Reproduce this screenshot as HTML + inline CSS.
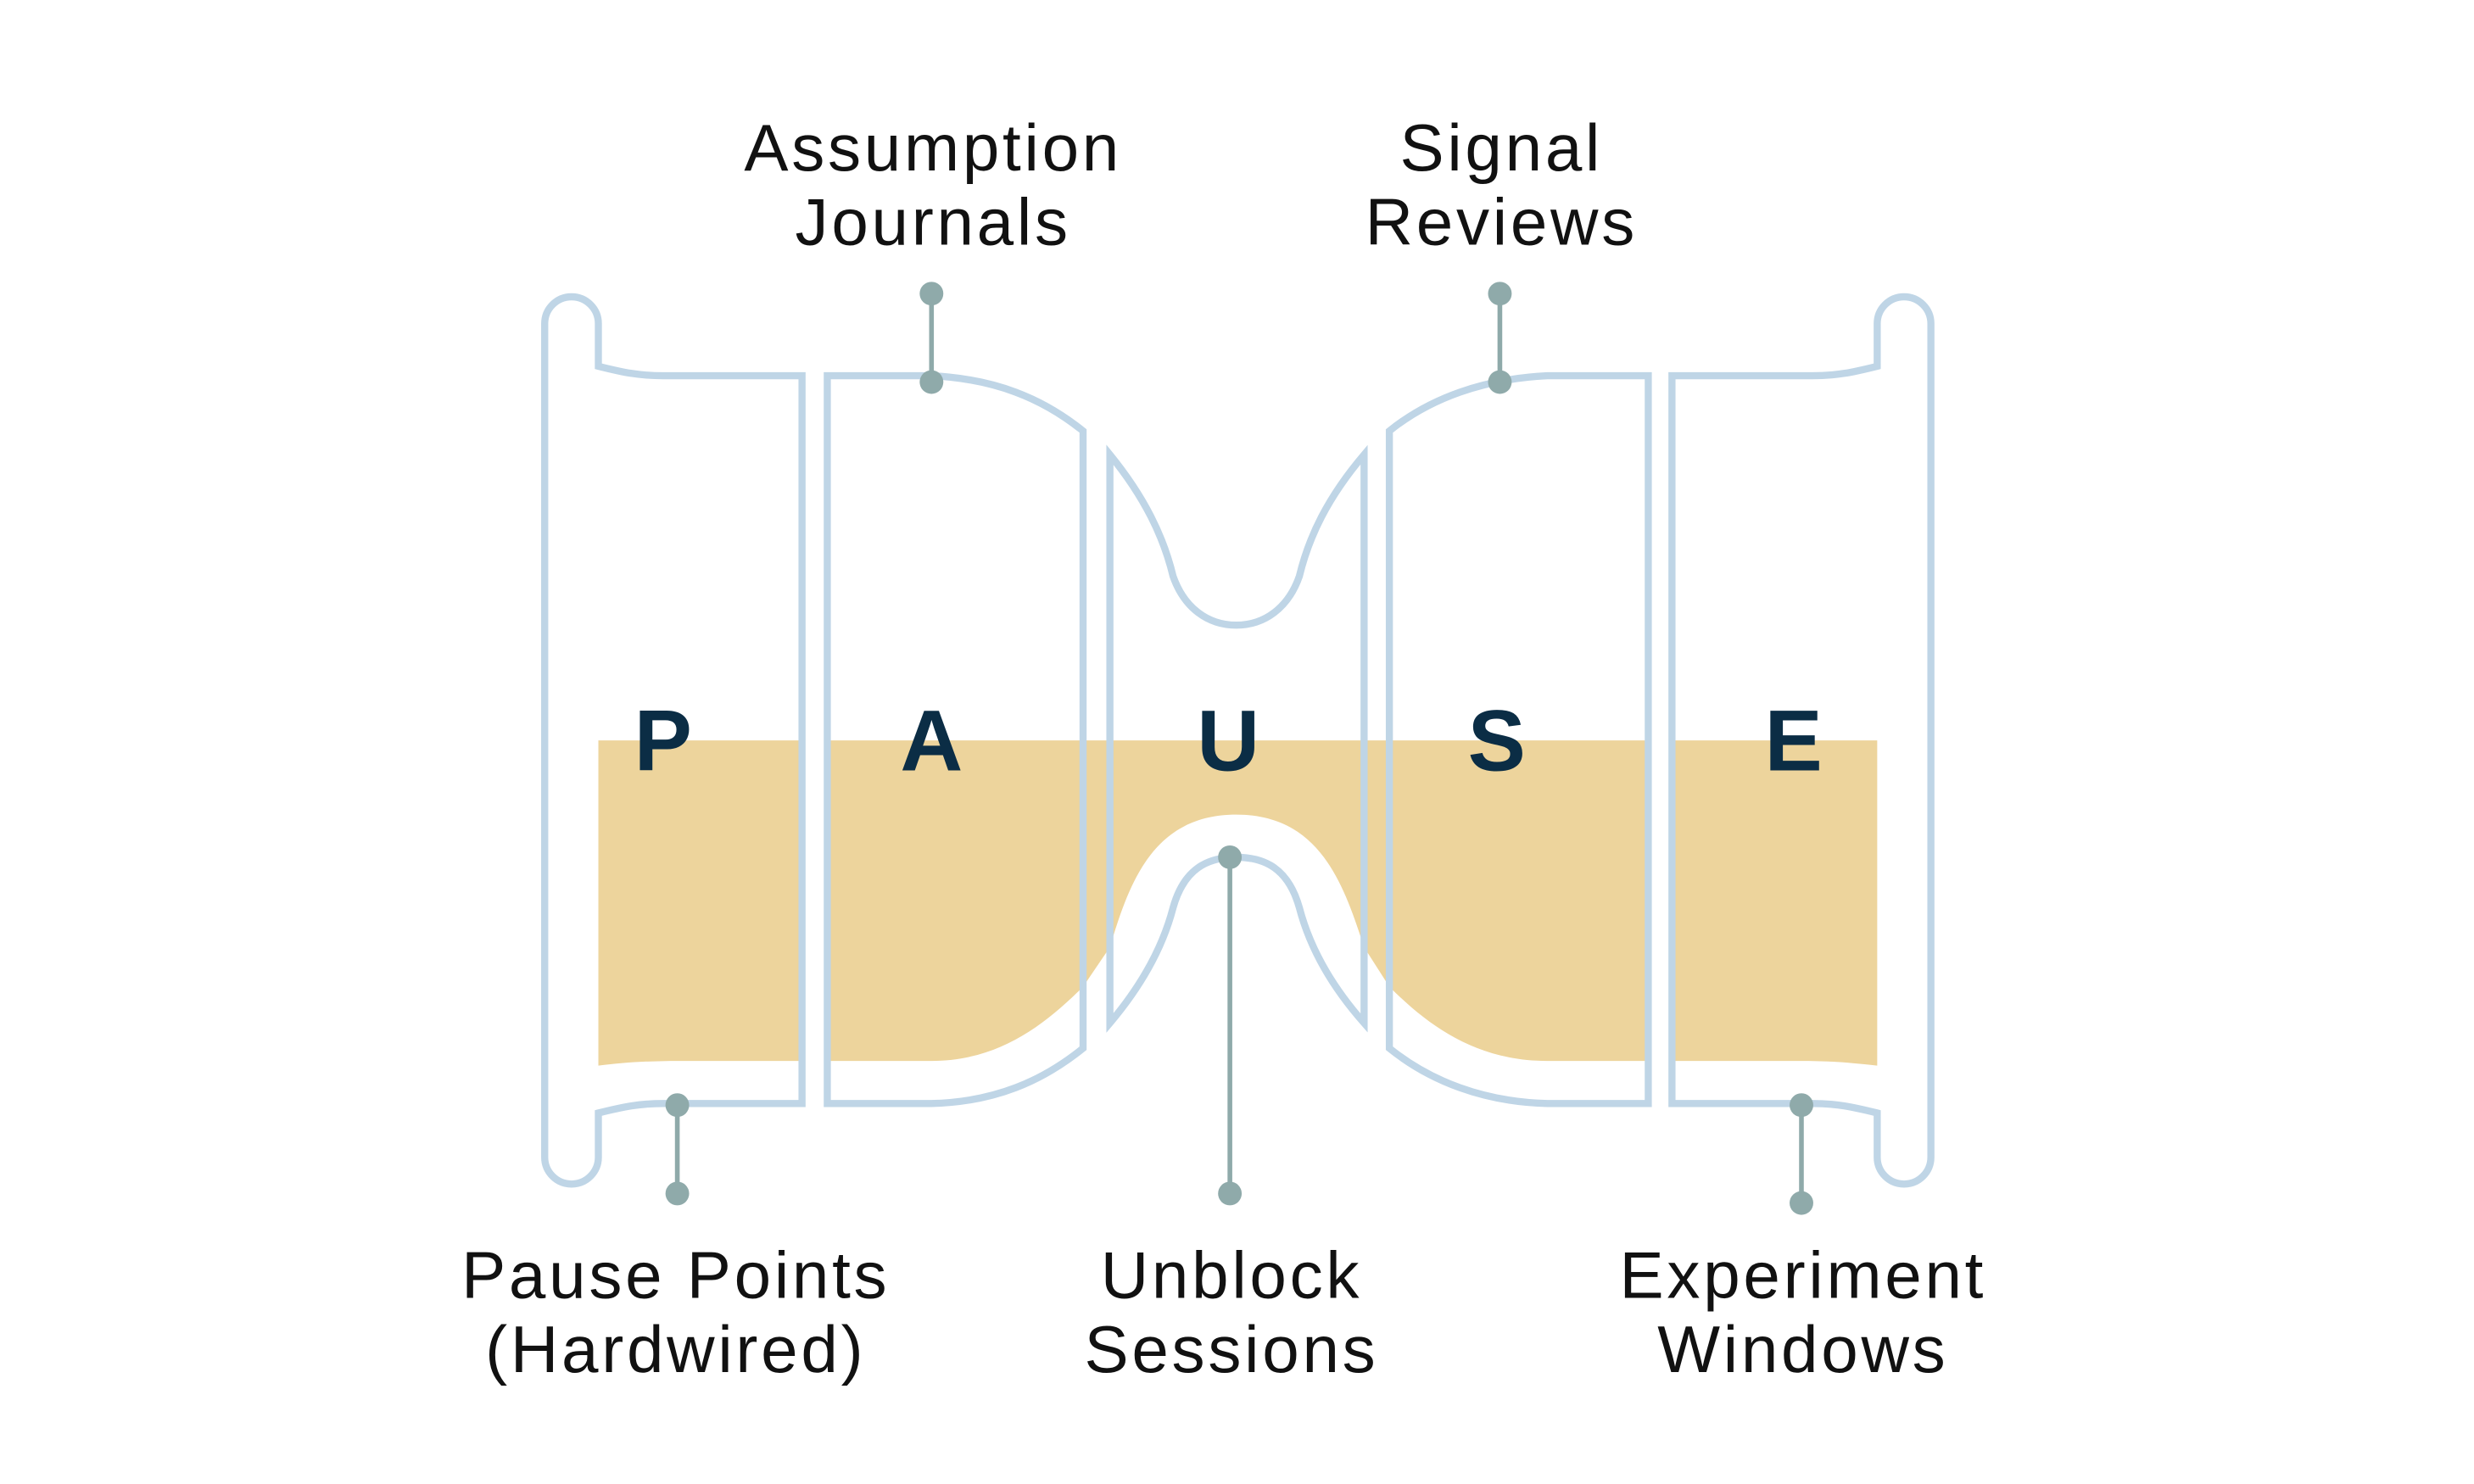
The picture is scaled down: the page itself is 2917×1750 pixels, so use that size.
<!DOCTYPE html>
<html><head><meta charset="utf-8"><style>
html,body{margin:0;padding:0;background:#fff;}
svg{display:block;}
</style></head><body>
<svg width="2917" height="1750" viewBox="0 0 1567 940" preserveAspectRatio="none" xmlns="http://www.w3.org/2000/svg">
<rect width="1567" height="940" fill="#fff"/>
<path fill="#EDD49C" d="M379,469 L1189,469 L1189,675 C1170,673 1160,672 1140,672 L980,672 C935,672 905,650 880,625 L864,600 C851,560 836,516 783,516 C730,516 715,560 703,600 L686,625 C661,650 632,672 590,672 L430,672 C410,672 395,673 379,675 Z"/>
<g fill="#fff">
<rect x="508" y="460" width="16" height="245"/>
<rect x="1044" y="460" width="15" height="245"/>
</g>
<g fill="none" stroke="#BFD5E6" stroke-width="4.5">
<path d="M379,232 C395,236 405,238 420,238 L508,238 L508,699 L420,699 C405,699 395,701 379,705 L379,733 A17,17 0 0 1 345,733 L345,205 A17,17 0 0 1 379,205 Z"/>
<path d="M524,238 L590,238 C630,240 660,252 686,273 L686,664 C660,685 630,698 590,699 L524,699 Z"/>
<path d="M703,288 C725,315 737,340 743,365 C750,385 765,396 783,396 C801,396 816,385 823,365 C829,340 841,315 864,288 L864,648 C841,622 829,598 823,575 C816,550 801,543 783,543 C765,543 750,550 743,575 C737,598 725,622 703,648 Z"/>
<path d="M1044,238 L980,238 C940,240 906,252 880,273 L880,664 C906,685 940,698 980,699 L1044,699 Z"/>
<path d="M1189,232 C1173,236 1163,238 1148,238 L1059,238 L1059,699 L1148,699 C1163,699 1173,701 1189,705 L1189,733 A17,17 0 0 0 1223,733 L1223,205 A17,17 0 0 0 1189,205 Z"/>
</g>
<g stroke="#8FAAAA" stroke-width="3" fill="#8FAAAA">
<line x1="590" y1="186" x2="590" y2="242"/><circle cx="590" cy="186" r="7.5" stroke="none"/><circle cx="590" cy="242" r="7.5" stroke="none"/>
<line x1="950" y1="186" x2="950" y2="242"/><circle cx="950" cy="186" r="7.5" stroke="none"/><circle cx="950" cy="242" r="7.5" stroke="none"/>
<line x1="429" y1="700" x2="429" y2="756"/><circle cx="429" cy="700" r="7.5" stroke="none"/><circle cx="429" cy="756" r="7.5" stroke="none"/>
<line x1="779" y1="543" x2="779" y2="756"/><circle cx="779" cy="543" r="7.5" stroke="none"/><circle cx="779" cy="756" r="7.5" stroke="none"/>
<line x1="1141" y1="700" x2="1141" y2="762"/><circle cx="1141" cy="700" r="7.5" stroke="none"/><circle cx="1141" cy="762" r="7.5" stroke="none"/>
</g>
<g font-family="Liberation Sans, sans-serif" font-weight="bold" font-size="55" fill="#0B2D45" text-anchor="middle">
<text x="420" y="488">P</text>
<text x="590" y="488">A</text>
<text x="778" y="488">U</text>
<text x="948" y="488">S</text>
<text x="1136" y="488">E</text>
</g>
<g font-family="Liberation Sans, sans-serif" font-size="42" letter-spacing="2" fill="#111" text-anchor="middle">
<text x="591" y="108">Assumption</text><text x="591" y="155">Journals</text>
<text x="951" y="108">Signal</text><text x="951" y="155">Reviews</text>
<text x="428" y="822">Pause Points</text><text x="428" y="869">(Hardwired)</text>
<text x="780" y="822">Unblock</text><text x="780" y="869">Sessions</text>
<text x="1142" y="822">Experiment</text><text x="1142" y="869">Windows</text>
</g>
</svg>
</body></html>
